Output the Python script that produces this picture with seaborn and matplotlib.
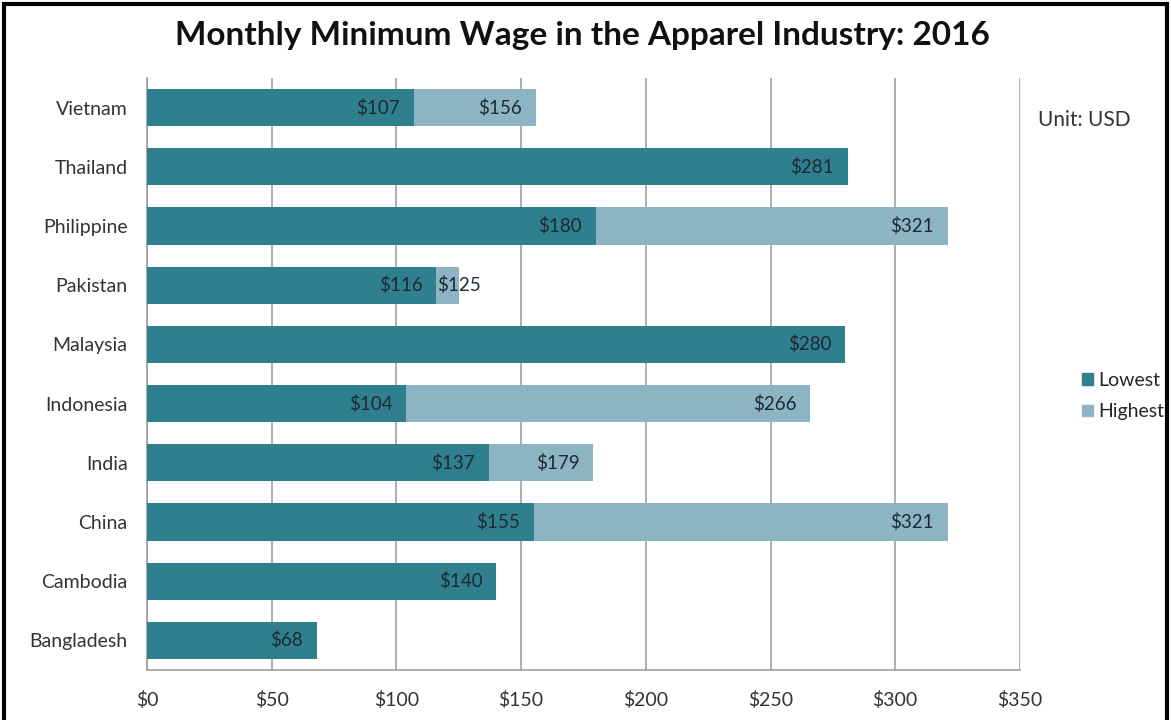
import matplotlib
matplotlib.use("Agg")
import matplotlib.pyplot as plt
import matplotlib.patches as mpatches
import seaborn as sns
import numpy as np
import pandas as pd

# data
countries = ["Vietnam", "Thailand", "Philippine", "Pakistan", "Malaysia",
             "Indonesia", "India", "China", "Cambodia", "Bangladesh"]
lowest = [107, 281, 180, 116, 280, 104, 137, 155, 140, 68]
highest = [156, np.nan, 321, 125, np.nan, 266, 179, 321, np.nan, np.nan]
x_ticks = [0, 50, 100, 150, 200, 250, 300, 350]

df = pd.DataFrame({"Country": countries, "Lowest": lowest, "Highest": highest})

dark = "#2F7F8F"
light = "#8DB4C2"

sns.set_theme(style="white")
plt.rcParams["font.family"] = ["Lato", "DejaVu Sans"]

fig = plt.figure(figsize=(11.71, 7.2), dpi=100)
ax = fig.add_axes([0.1255, 0.0694, 0.7455, 0.8223])

# highest bar behind, lowest bar in front
sns.barplot(data=df, y="Country", x="Highest", order=countries, color=light,
            width=0.63, saturation=1, linewidth=0, ax=ax, zorder=2)
sns.barplot(data=df, y="Country", x="Lowest", order=countries, color=dark,
            width=0.63, saturation=1, linewidth=0, ax=ax, zorder=3)

# value labels at inside end of each bar
txt_col = "#1E2A33"
for i, (lo, hi) in enumerate(zip(lowest, highest)):
    ax.annotate(f"${lo}", xy=(lo, i), xytext=(-10, 0), textcoords="offset points",
                ha="right", va="center", fontsize=13.5, color=txt_col, zorder=5)
    if not np.isnan(hi):
        if hi - lo < 20:
            ax.annotate(f"${int(hi)}", xy=(hi, i), xytext=(0, 0), textcoords="offset points",
                        ha="center", va="center", fontsize=13.5, color=txt_col, zorder=5)
        else:
            ax.annotate(f"${int(hi)}", xy=(hi, i), xytext=(-10, 0), textcoords="offset points",
                        ha="right", va="center", fontsize=13.5, color=txt_col, zorder=5)

ax.set_xlim(0, 350)
ax.set_ylim(len(countries) - 0.5, -0.5)
ax.set_xticks(x_ticks)
ax.set_xticklabels([f"${v}" for v in x_ticks])
ax.set_xlabel("")
ax.set_ylabel("")
ax.tick_params(axis="x", length=0, pad=15, labelsize=14, labelcolor="#333333")
ax.tick_params(axis="y", length=0, pad=14, labelsize=14, labelcolor="#333333")

ax.grid(axis="x", color="#999999", linewidth=1.1, zorder=0)
ax.set_axisbelow(True)
for s in ["top", "right"]:
    ax.spines[s].set_visible(False)
for s in ["left", "bottom"]:
    ax.spines[s].set_color("#999999")
    ax.spines[s].set_linewidth(1.1)

fig.text(0.497, 0.950, "Monthly Minimum Wage in the Apparel Industry: 2016",
         ha="center", va="center", fontsize=24, fontweight="bold", color="#111111")
fig.text(0.886, 0.833, "Unit: USD", ha="left", va="center", fontsize=15, color="#333333")

handles = [mpatches.Patch(color=dark, label="Lowest"),
           mpatches.Patch(color=light, label="Highest")]
fig.legend(handles=handles, loc="center left", bbox_to_anchor=(0.909, 0.45),
           frameon=False, fontsize=14, handlelength=0.55, handleheight=0.55,
           handletextpad=0.3, labelspacing=0.75)

# outer black frame
fig.patches.append(mpatches.Rectangle((0.003, -0.01), 0.994, 1.005, transform=fig.transFigure,
                                      fill=False, edgecolor="black", linewidth=3))

fig.savefig("out.png", dpi=100)
